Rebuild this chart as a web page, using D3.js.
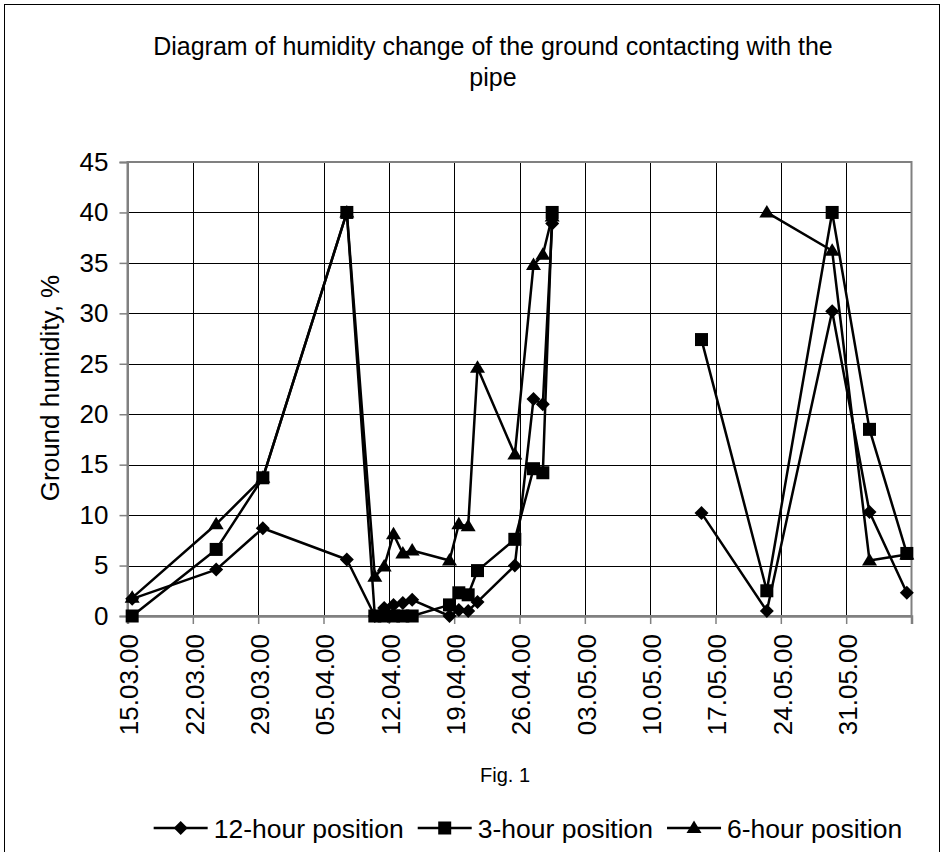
<!DOCTYPE html>
<html>
<head>
<meta charset="utf-8">
<script src="https://cdn.jsdelivr.net/npm/d3@7"></script>
<style>
html,body{margin:0;padding:0;background:#fff;}
svg text{font-family:"Liberation Sans",Arial,sans-serif;fill:#000;}
</style>
</head>
<body>
<svg id="chart" width="944" height="852"></svg>
<script>
// ---- data ----
const dateLabels = ["15.03.00","24.03.00","29.03.00","07.04.00","10.04.00","11.04.00","12.04.00","13.04.00","14.04.00","18.04.00","19.04.00","20.04.00","21.04.00","25.04.00","27.04.00","28.04.00","29.04.00","08.05.00","15.05.00","22.05.00","29.05.00","02.06.00","06.06.00"];
const pos12 = [1.7,4.6,8.7,5.6,0,0.8,1.1,1.3,1.6,0,0.6,0.5,1.4,5.0,21.5,21.0,38.9,null,10.2,0.5,30.2,10.3,2.3];
const pos3  = [0,6.6,13.7,40,0,0,0,0,0,1.1,2.3,2.1,4.5,7.6,14.6,14.2,40,null,27.4,2.5,40,18.5,6.2];
const pos6  = [1.8,9.1,13.7,40,3.9,4.9,8.1,6.2,6.5,5.5,9.1,8.9,24.6,16.0,34.8,35.8,39.6,null,null,40,36.2,5.5,6.1];
const seriesNames = ["12-hour position","3-hour position","6-hour position"];
const xTickLabels = ["15.03.00","22.03.00","29.03.00","05.04.00","12.04.00","19.04.00","26.04.00","03.05.00","10.05.00","17.05.00","24.05.00","31.05.00"];
const yTicks = [0,5,10,15,20,25,30,35,40,45];
const xDomain = ["15.03.00","07.06.00"];
const titleLines = ["Diagram of humidity change of the ground contacting with the","pipe"];
const yTitle = "Ground humidity, %";
const caption = "Fig. 1";

// ---- setup ----
const parse = d3.timeParse("%d.%m.%y");
const svg = d3.select("#chart");
const L = 127.5, R = 911.5, T = 162, B = 616;
const x = d3.scaleTime().domain(xDomain.map(parse)).range([L, R]);
const y = d3.scaleLinear().domain([0,45]).range([B, T]);
const halfDay = 12*3600*1000;
const px = s => x(new Date(parse(s).getTime() + halfDay));

// outer frame
svg.append("rect").attr("x",4.5).attr("y",4.5).attr("width",935).attr("height",900)
  .attr("fill","none").attr("stroke","#000").attr("stroke-width",1);

// title
svg.append("g").selectAll("text").data(titleLines).join("text")
  .attr("x",493).attr("y",(d,i)=>55+i*31).attr("text-anchor","middle")
  .style("font-size","25px").text(d=>d);

// gridlines
const g = svg.append("g");
g.append("g").selectAll("line").data(yTicks.filter(v=>v>0&&v<45)).join("line")
  .attr("x1",L).attr("x2",R).attr("y1",d=>Math.round(y(d))+0.5).attr("y2",d=>Math.round(y(d))+0.5)
  .attr("stroke","#000").attr("stroke-width",1);
const weekTicks = xTickLabels.map(parse);
g.append("g").selectAll("line").data(weekTicks.slice(1)).join("line")
  .attr("x1",d=>Math.round(x(d))+0.5).attr("x2",d=>Math.round(x(d))+0.5).attr("y1",T).attr("y2",B)
  .attr("stroke","#000").attr("stroke-width",1);

// plot border
g.append("rect").attr("x",L).attr("y",T).attr("width",R-L).attr("height",B-T)
  .attr("fill","none").attr("stroke","#808080").attr("stroke-width",2);

// y axis
const yAxis = d3.axisLeft(y).tickValues(yTicks).tickSize(8).tickPadding(11).tickFormat(d3.format("d"));
const ya = svg.append("g").attr("transform",`translate(${L},0)`).call(yAxis);
ya.select(".domain").attr("stroke","#808080").attr("stroke-width",2);
ya.selectAll(".tick line").attr("stroke","#808080").attr("stroke-width",1.5);
ya.selectAll(".tick text").style("font-size","26px").attr("font-family",null);

// x axis
const xAxis = d3.axisBottom(x).tickValues(weekTicks.concat([parse(xDomain[1])])).tickSize(8)
  .tickFormat((d,i)=> i < xTickLabels.length ? xTickLabels[i] : "");
const xa = svg.append("g").attr("transform",`translate(0,${B})`).call(xAxis);
xa.select(".domain").attr("stroke","#808080").attr("stroke-width",2.5);
xa.selectAll(".tick line").attr("stroke","#808080").attr("stroke-width",1.5);
xa.selectAll(".tick text").style("font-size","26px").attr("font-family",null)
  .attr("text-anchor","end").attr("transform","rotate(-90)")
  .attr("x",-18).attr("y",1).attr("dy","0.36em");

// y title
svg.append("text").attr("transform","translate(59,388) rotate(-90)").attr("text-anchor","middle")
  .style("font-size","26px").text(yTitle);

// caption
svg.append("text").attr("x",505).attr("y",782).attr("text-anchor","middle").style("font-size","20px").text(caption);

// markers
function marker(sel, type){
  if(type==="diamond") sel.append("path").attr("d","M0,-7L7,0L0,7L-7,0Z");
  else if(type==="square") sel.append("rect").attr("x",-6.5).attr("y",-6.5).attr("width",13).attr("height",13);
  else sel.append("path").attr("d","M0,-7.5L7.5,5L-7.5,5Z");
}
const series = [
  {name:seriesNames[0], vals:pos12, type:"diamond"},
  {name:seriesNames[1], vals:pos3, type:"square"},
  {name:seriesNames[2], vals:pos6, type:"triangle"}
];
const drawOrder = [series[2], series[0], series[1]];
const line = d3.line().defined(d=>d.v!==null).x(d=>px(d.date)).y(d=>y(d.v));
drawOrder.forEach(s=>{
  const pts = dateLabels.map((dl,i)=>({date:dl, v:s.vals[i]}));
  const sg = svg.append("g");
  sg.append("path").attr("d",line(pts)).attr("fill","none").attr("stroke","#000").attr("stroke-width",2.5).attr("stroke-linejoin","round");
  sg.selectAll("g.m").data(pts.filter(p=>p.v!==null)).join("g").attr("class","m")
    .attr("transform",p=>`translate(${px(p.date)},${y(p.v)})`).attr("fill","#000")
    .each(function(){ marker(d3.select(this), s.type); });
});

// legend
const leg = svg.append("g");
let cx = 0;
const lineLen = 54, textGap = 6, itemGap = 14;
series.forEach(s=>{
  const it = leg.append("g");
  it.append("line").attr("x1",0).attr("x2",lineLen).attr("y1",0).attr("y2",0).attr("stroke","#000").attr("stroke-width",2.5);
  const mk = it.append("g").attr("transform",`translate(${lineLen/2},0)`).attr("fill","#000");
  marker(mk, s.type);
  const t = it.append("text").attr("x",lineLen+textGap).attr("y",0).attr("dy","0.36em").style("font-size","26.5px").text(s.name);
  const w = lineLen + textGap + t.node().getComputedTextLength();
  it.attr("transform",`translate(${cx},0)`);
  cx += w + itemGap;
});
const totalW = cx - itemGap;
leg.attr("transform",`translate(${528 - totalW/2},828)`);
</script>
</body>
</html>
